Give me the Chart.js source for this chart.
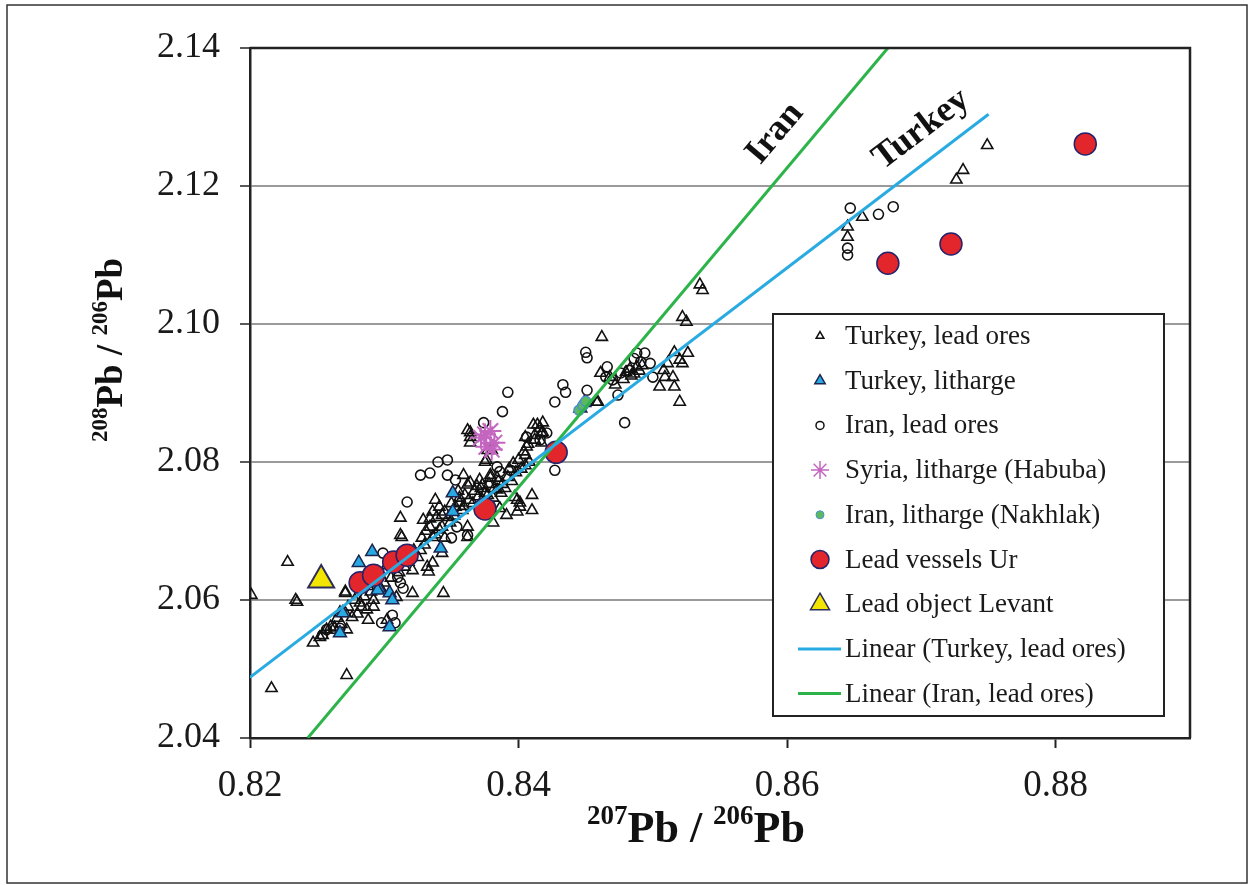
<!DOCTYPE html>
<html>
<head>
<meta charset="utf-8">
<script src="https://cdn.jsdelivr.net/npm/chart.js@4.4.0/dist/chart.umd.min.js"></script>
<style>
  html, body { margin: 0; padding: 0; background: #fff; }
  #wrap { width: 1254px; height: 885px; }
</style>
</head>
<body>
<div id="wrap"><canvas id="pb-chart" width="1254" height="885"></canvas></div>
<script>
// axis ticks
const xTicks = [0.82, 0.84, 0.86, 0.88];
const yTicks = [2.04, 2.06, 2.08, 2.10, 2.12, 2.14];

// series, [207Pb/206Pb, 208Pb/206Pb]
const turkeyOres = [
  [0.8201,2.0607],[0.8228,2.0655],[0.8235,2.0597],[0.8271,2.0610],[0.8312,2.0719],[0.8312,2.0694],
  [0.8321,2.0643],[0.8344,2.0610],[0.8359,2.0781],[0.8364,2.0770],[0.8364,2.0836],[0.8375,2.0800],
  [0.8380,2.0817],[0.8411,2.0854],[0.8416,2.0849],[0.8410,2.0752],[0.8401,2.0741],[0.8399,2.0728],
  [0.8458,2.0887],[0.8321,2.0610],[0.8282,2.0596],[0.8287,2.0586],[0.8292,2.0600],[0.8309,2.0604],
  [0.8334,2.0706],[0.8339,2.0720],[0.8336,2.0691],[0.8216,2.0472],[0.8272,2.0491],[0.8247,2.0538],
  [0.8254,2.0549],[0.8257,2.0557],[0.8288,2.0571],[0.8283,2.0590],[0.8292,2.0590],[0.8272,2.0557],
  [0.8265,2.0574],[0.8271,2.0581],[0.8234,2.0600],[0.8271,2.0612],[0.8333,2.0641],[0.8336,2.0654],
  [0.8302,2.0571],[0.8260,2.0561],[0.8252,2.0546],[0.8329,2.0716],[0.8364,2.0843],[0.8377,2.0817],
  [0.8376,2.0803],[0.8414,2.0854],[0.8418,2.0843],[0.8412,2.0839],[0.8405,2.0836],[0.8406,2.0822],
  [0.8405,2.0810],[0.8371,2.0774],[0.8379,2.0777],[0.8384,2.0777],[0.8397,2.0749],[0.8401,2.0735],
  [0.8410,2.0730],[0.8386,2.0733],[0.8391,2.0723],[0.8356,2.0741],[0.8338,2.0745],[0.8336,2.0728],
  [0.8343,2.0723],[0.8343,2.0706],[0.8349,2.0712],[0.8343,2.0668],[0.8332,2.0648],[0.8362,2.0706],
  [0.8362,2.0691],[0.8381,2.0712],[0.8313,2.0691],[0.8462,2.0981],[0.8535,2.1057],[0.8537,2.1049],
  [0.8522,2.1010],[0.8525,2.1003],[0.8526,2.0958],[0.8520,2.0948],[0.8516,2.0959],[0.8508,2.0933],
  [0.8509,2.0923],[0.8515,2.0923],[0.8516,2.0909],[0.8505,2.0909],[0.8520,2.0887],[0.8459,2.0887],
  [0.8461,2.0929],[0.8468,2.0923],[0.8418,2.0857],[0.8417,2.0842],[0.8522,2.0943],[0.8511,2.0943],
  [0.8412,2.0832],[0.8417,2.0828],[0.8362,2.0846],[0.8364,2.0828],[0.8399,2.0745],[0.8362,2.0767],
  [0.8379,2.0781],[0.8373,2.0767],[0.8350,2.0740],[0.8353,2.0735],[0.8356,2.0748],[0.8358,2.0730],
  [0.8360,2.0752],[0.8363,2.0745],[0.8367,2.0758],[0.8370,2.0750],[0.8372,2.0762],[0.8375,2.0755],
  [0.8378,2.0768],[0.8382,2.0762],[0.8385,2.0772],[0.8388,2.0768],[0.8392,2.0778],[0.8395,2.0772],
  [0.8398,2.0785],[0.8402,2.0790],[0.8405,2.0795],[0.8408,2.0800],[0.8345,2.0728],[0.8348,2.0720],
  [0.8341,2.0702],[0.8338,2.0695],[0.8345,2.0690],[0.8330,2.0680],[0.8327,2.0672],[0.8325,2.0662],
  [0.8318,2.0655],[0.8315,2.0648],[0.8305,2.0632],[0.8300,2.0625],[0.8297,2.0618],[0.8290,2.0612],
  [0.8285,2.0605],[0.8280,2.0580],[0.8276,2.0575],[0.8268,2.0565],[0.8263,2.0560],[0.8480,2.0930],
  [0.8483,2.0935],[0.8486,2.0928],[0.8488,2.0938],[0.8490,2.0932],[0.8484,2.0925],[0.8492,2.0940],
  [0.8478,2.0920],[0.8472,2.0912],[0.8749,2.1259],[0.8731,2.1223],[0.8726,2.1209],[0.8656,2.1155],
  [0.8645,2.1141],[0.8645,2.1126],
  [0.8352,2.0722],[0.8355,2.0758],[0.8359,2.0736],[0.8366,2.0740],[0.8369,2.0765],[0.8373,2.0745],
  [0.8377,2.0752],[0.8381,2.0748],[0.8384,2.0760],[0.8387,2.0755],[0.8390,2.0762],[0.8393,2.0790],
  [0.8396,2.0798],[0.8400,2.0803],[0.8404,2.0815],[0.8407,2.0826],[0.8341,2.0735],[0.8334,2.0718],
  [0.8331,2.0700],[0.8328,2.0690],[0.8322,2.0672],[0.8316,2.0662],[0.8311,2.0640],[0.8302,2.0650],
  [0.8296,2.0638],[0.8288,2.0620],[0.8278,2.0600],[0.8273,2.0590],[0.8267,2.0582]
];
const turkeyLitharge = [
  [0.8351,2.0755],[0.8351,2.0728],[0.8342,2.0675],[0.8291,2.0670],[0.8281,2.0654],[0.8296,2.0617],
  [0.8304,2.0610],[0.8269,2.0581],[0.8304,2.0561],[0.8267,2.0552],[0.8295,2.0614],[0.8306,2.0600],
  [0.8446,2.0878],[0.8449,2.0886]
];
const iranOres = [
  [0.8392,2.0901],[0.8388,2.0873],[0.8450,2.0959],[0.8451,2.0951],[0.8433,2.0912],[0.8435,2.0901],
  [0.8427,2.0887],[0.8451,2.0904],[0.8374,2.0857],[0.8340,2.0800],[0.8347,2.0803],[0.8327,2.0781],
  [0.8334,2.0784],[0.8347,2.0781],[0.8317,2.0742],[0.8427,2.0788],[0.8312,2.0625],[0.8310,2.0633],
  [0.8314,2.0617],[0.8350,2.0690],[0.8354,2.0706],[0.8298,2.0567],[0.8306,2.0578],[0.8308,2.0567],
  [0.8257,2.0557],[0.8262,2.0559],[0.8254,2.0549],[0.8267,2.0559],[0.8299,2.0668],[0.8362,2.0694],
  [0.8386,2.0786],[0.8394,2.0788],[0.8384,2.0793],[0.8416,2.0832],[0.8421,2.0842],[0.8406,2.0836],
  [0.8466,2.0938],[0.8465,2.0923],[0.8479,2.0857],[0.8474,2.0897],[0.8482,2.0933],[0.8488,2.0958],
  [0.8494,2.0958],[0.8491,2.0945],[0.8498,2.0943],[0.8476,2.0929],[0.8470,2.0919],[0.8500,2.0923],
  [0.8486,2.0950],[0.8353,2.0774],[0.8647,2.1168],[0.8668,2.1159],[0.8679,2.1170],[0.8645,2.1110],
  [0.8645,2.1100]
];
const syriaLitharge = [
  [0.8372,2.0835],[0.8376,2.0822],[0.8379,2.0845],[0.8382,2.0828],[0.8375,2.0840],[0.8380,2.0818]
];
const iranLitharge = [[0.8445,2.0875],[0.8448,2.0882],[0.8450,2.0888]];
const urVessels = [
  [0.8822,2.1261],[0.8722,2.1116],[0.8675,2.1088],[0.8428,2.0814],[0.8375,2.0732],
  [0.8282,2.0625],[0.8292,2.0636],[0.8307,2.0655],[0.8317,2.0665]
];
const levantObject = [[0.8253,2.0629]];
// least squares lines as drawn, end points
const turkeyFit = [[0.8200,2.0488],[0.8750,2.1304]];
const iranFit = [[0.8243,2.0400],[0.8675,2.1400]];

const serif = "'Liberation Serif', 'Times New Roman', serif";
const toXY = arr => arr.map(p => ({ x: p[0], y: p[1] }));

const legendRows = [
  { label: 'Turkey, lead ores', style: 'triangle', r: 4.5, fill: 'rgba(0,0,0,0)', stroke: '#111', lw: 1.5 },
  { label: 'Turkey, litharge', style: 'triangle', r: 6, fill: '#29a9e1', stroke: '#1c2450', lw: 1.5 },
  { label: 'Iran, lead ores', style: 'circle', r: 4, fill: 'rgba(0,0,0,0)', stroke: '#111', lw: 1.5 },
  { label: 'Syria, litharge (Habuba)', style: 'star', r: 9, fill: '#c466c0', stroke: '#c466c0', lw: 1.5 },
  { label: 'Iran, litharge (Nakhlak)', style: 'circle', r: 4, fill: '#5cba5e', stroke: '#4f8fcf', lw: 1 },
  { label: 'Lead vessels Ur', style: 'circle', r: 9, fill: '#e3262b', stroke: '#24246b', lw: 1.5 },
  { label: 'Lead object Levant', style: 'triangle', r: 11, fill: '#f2e600', stroke: '#2d2d5a', lw: 1.5 },
  { label: 'Linear (Turkey, lead ores)', line: '#29abe2' },
  { label: 'Linear (Iran, lead ores)', line: '#2cb34a' }
];

const decorPlugin = {
  id: 'decor',
  beforeDraw(chart) {
    const ctx = chart.ctx;
    ctx.save();
    ctx.fillStyle = '#fff';
    ctx.fillRect(0, 0, chart.width, chart.height);
    ctx.strokeStyle = '#333';
    ctx.lineWidth = 1.5;
    ctx.strokeRect(7, 5, 1240, 878);
    ctx.restore();
  },
  afterDraw(chart) {
    const ctx = chart.ctx;
    const a = chart.chartArea;
    const sx = chart.scales.x, sy = chart.scales.y;
    ctx.save();
    // plot frame top and right
    ctx.strokeStyle = '#222';
    ctx.lineWidth = 2.5;
    ctx.beginPath();
    ctx.moveTo(a.left, a.top);
    ctx.lineTo(a.right, a.top);
    ctx.lineTo(a.right, a.bottom);
    ctx.stroke();

    // line labels
    ctx.fillStyle = '#111';
    ctx.font = 'bold 36px ' + serif;
    ctx.textAlign = 'center';
    ctx.textBaseline = 'middle';
    ctx.save();
    ctx.translate(sx.getPixelForValue(0.8591), sy.getPixelForValue(2.1276));
    ctx.rotate(-50 * Math.PI / 180);
    ctx.fillText('Iran', 0, 0);
    ctx.restore();
    ctx.save();
    ctx.translate(sx.getPixelForValue(0.8700), sy.getPixelForValue(2.1282));
    ctx.rotate(-37 * Math.PI / 180);
    ctx.fillText('Turkey', 0, 0);
    ctx.restore();

    // legend box
    const bx = 773, by = 314, bw = 391, bh = 402;
    ctx.fillStyle = '#fff';
    ctx.fillRect(bx, by, bw, bh);
    ctx.strokeStyle = '#222';
    ctx.lineWidth = 2;
    ctx.strokeRect(bx, by, bw, bh);
    ctx.font = '27px ' + serif;
    ctx.textAlign = 'left';
    legendRows.forEach((row, i) => {
      const cy = by + 22 + i * 44.7;
      if (row.line) {
        ctx.strokeStyle = row.line;
        ctx.lineWidth = 3;
        ctx.beginPath();
        ctx.moveTo(798, cy);
        ctx.lineTo(841, cy);
        ctx.stroke();
      } else {
        ctx.fillStyle = row.fill;
        ctx.strokeStyle = row.stroke;
        ctx.lineWidth = row.lw;
        Chart.helpers.drawPoint(ctx, { pointStyle: row.style, radius: row.r, rotation: 0, borderWidth: row.lw }, 820, cy);
      }
      ctx.fillStyle = '#1a1a1a';
      ctx.fillText(row.label, 845, cy + 1);
    });

    // axis titles with superscripts
    const drawIso = (parts, x, y, rot, big, small) => {
      ctx.save();
      ctx.translate(x, y);
      ctx.rotate(rot);
      ctx.fillStyle = '#111';
      ctx.textBaseline = 'alphabetic';
      ctx.textAlign = 'left';
      let total = 0;
      parts.forEach(p => { ctx.font = 'bold ' + (p.sup ? small : big) + 'px ' + serif; total += ctx.measureText(p.t).width; });
      let cx = -total / 2;
      parts.forEach(p => {
        ctx.font = 'bold ' + (p.sup ? small : big) + 'px ' + serif;
        ctx.fillText(p.t, cx, p.sup ? -big * 0.08 : big * 0.32);
        cx += ctx.measureText(p.t).width;
      });
      ctx.restore();
    };
    drawIso([{ t: '207', sup: true }, { t: 'Pb / ' }, { t: '206', sup: true }, { t: 'Pb' }], 696, 828, 0, 44, 27);
    drawIso([{ t: '208', sup: true }, { t: 'Pb / ' }, { t: '206', sup: true }, { t: 'Pb' }], 110, 350, -Math.PI / 2, 37, 23);
    ctx.restore();
  }
};

const ctx = document.getElementById('pb-chart').getContext('2d');
new Chart(ctx, {
  type: 'scatter',
  data: {
    datasets: [
      { label: 'Linear (Turkey, lead ores)', data: toXY(turkeyFit), showLine: true, borderColor: '#29abe2', borderWidth: 3, pointRadius: 0, order: 0 },
      { label: 'Linear (Iran, lead ores)', data: toXY(iranFit), showLine: true, borderColor: '#2cb34a', borderWidth: 3, pointRadius: 0, order: 0 },
      { label: 'Lead vessels Ur', data: toXY(urVessels), pointStyle: 'circle', pointRadius: 11, backgroundColor: '#e3262b', borderColor: '#24246b', borderWidth: 1.5, order: 1 },
      { label: 'Lead object Levant', data: toXY(levantObject), pointStyle: 'triangle', pointRadius: 15, backgroundColor: '#f2e600', borderColor: '#2d2d5a', borderWidth: 2, order: 1 },
      { label: 'Iran, litharge (Nakhlak)', data: toXY(iranLitharge), pointStyle: 'circle', pointRadius: 5, backgroundColor: '#5cba5e', borderColor: '#4f8fcf', borderWidth: 1.5, order: 2 },
      { label: 'Syria, litharge (Habuba)', data: toXY(syriaLitharge), pointStyle: 'star', pointRadius: 11, backgroundColor: '#c466c0', borderColor: '#c466c0', borderWidth: 2, order: 2 },
      { label: 'Turkey, litharge', data: toXY(turkeyLitharge), pointStyle: 'triangle', pointRadius: 7.5, backgroundColor: '#29a9e1', borderColor: '#1c2450', borderWidth: 1.5, order: 3 },
      { label: 'Iran, lead ores', data: toXY(iranOres), pointStyle: 'circle', pointRadius: 5, backgroundColor: 'rgba(0,0,0,0)', borderColor: '#111', borderWidth: 1.6, order: 4 },
      { label: 'Turkey, lead ores', data: toXY(turkeyOres), pointStyle: 'triangle', pointRadius: 6.5, backgroundColor: 'rgba(0,0,0,0)', borderColor: '#111', borderWidth: 1.6, order: 5 }
    ]
  },
  options: {
    responsive: false,
    animation: false,
    devicePixelRatio: 1,
    layout: { padding: { left: 0, right: 64, top: 48, bottom: 0 } },
    plugins: { legend: { display: false }, tooltip: { enabled: false } },
    scales: {
      x: {
        type: 'linear', min: 0.82, max: 0.89,
        afterBuildTicks: s => { s.ticks = xTicks.map(v => ({ value: v })); },
        afterFit: s => { s.height = 147; },
        grid: { drawOnChartArea: false, drawTicks: true, tickLength: 10, tickColor: '#222', tickWidth: 2 },
        border: { color: '#222', width: 2.5 },
        ticks: { font: { family: serif, size: 37 }, color: '#1a1a1a', padding: 16, maxRotation: 0, autoSkip: false, callback: v => v.toFixed(2) }
      },
      y: {
        min: 2.04, max: 2.14,
        afterBuildTicks: s => { s.ticks = yTicks.map(v => ({ value: v })); },
        afterFit: s => { s.width = 250; },
        grid: { color: '#9a9a9a', lineWidth: 2, drawTicks: true, tickLength: 10, tickColor: '#222', tickWidth: 1.5 },
        border: { color: '#222', width: 2.5 },
        ticks: { font: { family: serif, size: 36 }, color: '#1a1a1a', padding: 20, autoSkip: false, callback: v => v.toFixed(2) }
      }
    }
  },
  plugins: [decorPlugin]
});
</script>
</body>
</html>
